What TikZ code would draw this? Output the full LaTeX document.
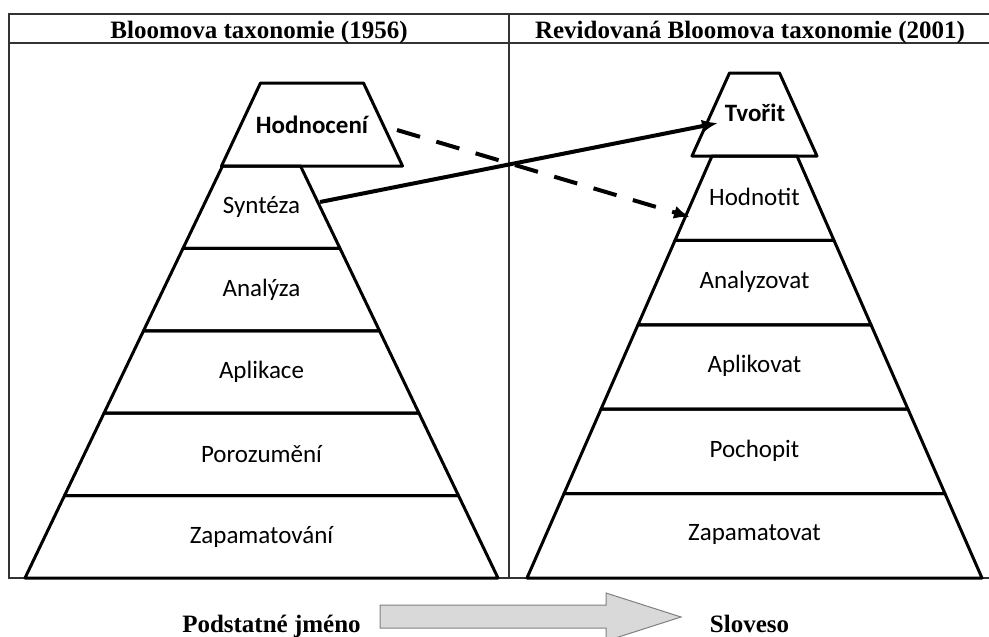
\documentclass[tikz,border=0pt]{standalone}
\usepackage{fontspec}
\setmainfont{Liberation Serif}
\newfontfamily\levelfont{Carlito}
\usepackage{xcolor}
\usetikzlibrary{arrows.meta}

\definecolor{frameGray}{RGB}{51,51,51}
\definecolor{shiftFill}{RGB}{217,217,217}
\definecolor{shiftDraw}{RGB}{128,128,128}

\tikzset{
  levelText/.style={font=\levelfont\fontsize{25}{30}\selectfont},
  topText/.style={font=\levelfont\bfseries\fontsize{25}{30}\selectfont},
  headText/.style={font=\bfseries\fontsize{25}{30}\selectfont, anchor=base},
  layer/.style={line width=3pt, line join=round},
  frameLine/.style={line width=1.5pt, frameGray},
  jump/.style={line width=4pt, -{Latex[length=16pt,width=13pt]}}
}

\begin{document}
\begin{tikzpicture}[x=1pt,y=-1pt]
\useasboundingbox (0,0) rectangle (989,637);

% table frame
\draw[frameLine] (989,14) -- (9,14) -- (9,578) -- (989,578);
\draw[frameLine] (9,43) -- (989,43);
\draw[frameLine] (509,14) -- (509,578);

\node[headText] (oldHead) at (259,38) {Bloomova taxonomie (1956)};
\node[headText] (newHead) at (750,38) {Revidovaná Bloomova taxonomie (2001)};

% Bloom 1956
\draw[layer] (260.5,83) -- (363.5,83) -- (402.5,166) -- (221.5,166) -- cycle;
\node[topText] (oldTop) at (312,125) {Hodnocení};

\foreach \txt [count=\i from 0] in {Syntéza,Analýza,Aplikace,Porozumění,Zapamatování}{
  \pgfmathsetmacro\ya{166+82.4*\i}
  \pgfmathsetmacro\yb{\ya+82.4}
  \pgfmathsetmacro\wa{39+39.5*\i}
  \pgfmathsetmacro\wb{\wa+39.5}
  \draw[layer] (261.5-\wa,\ya) -- (261.5+\wa,\ya) -- (261.5+\wb,\yb) -- (261.5-\wb,\yb) -- cycle;
  \node[levelText] (old\i) at (261.5,\ya+41.2) {\txt};
}

% Bloom 2001
\draw[layer] (729.5,73) -- (779.5,73) -- (817,156) -- (692,156) -- cycle;
\node[topText] (newTop) at (755,113) {Tvořit};

\foreach \txt [count=\i from 0] in {Hodnotit,Analyzovat,Aplikovat,Pochopit,Zapamatovat}{
  \pgfmathsetmacro\ya{156+84.4*\i}
  \pgfmathsetmacro\yb{\ya+84.4}
  \pgfmathsetmacro\wa{42.5+37*\i}
  \pgfmathsetmacro\wb{\wa+37}
  \draw[layer] (754.5-\wa,\ya) -- (754.5+\wa,\ya) -- (754.5+\wb,\yb) -- (754.5-\wb,\yb) -- cycle;
  \node[levelText] (new\i) at (754.5,\ya+41.2) {\txt};
}

% arrows between the two pyramids
\coordinate (synStart) at (320,202);
\coordinate (tvoEnd) at (718,123);
\coordinate (hodStart) at (397,130);
\coordinate (hodEnd) at (690,217);
\draw[jump] (synStart) -- (tvoEnd);
\draw[jump, dash pattern=on 24pt off 17pt] (hodStart) -- (hodEnd);

% noun -> verb
\node[headText] (noun) at (271.5,632) {Podstatné jméno};
\node[headText] (verb) at (749.5,632) {Sloveso};
\filldraw[fill=shiftFill, draw=shiftDraw, line width=1pt]
  (380,605) -- (606,605) -- (606,593) -- (681,617) -- (606,641) -- (606,628) -- (380,628) -- cycle;

\end{tikzpicture}
\end{document}
